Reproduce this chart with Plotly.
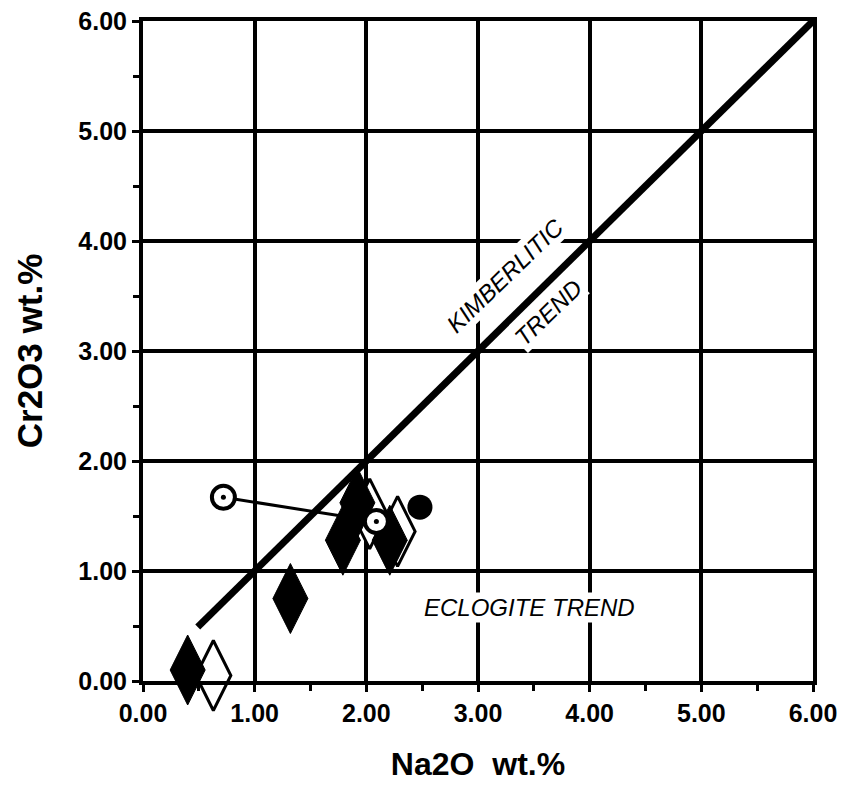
import plotly.graph_objects as go

# Data
trend_x = [0.49, 6.0]
trend_y = [0.49, 6.0]

tie_x = [0.72, 2.09]
tie_y = [1.67, 1.45]

filled_diamond_x = [0.40, 1.32, 1.79, 1.92, 2.21]
filled_diamond_y = [0.10, 0.75, 1.28, 1.62, 1.28]

open_diamond_x = [0.63, 2.28, 2.03]
open_diamond_y = [0.05, 1.36, 1.52]

open_circle_x = [0.72, 2.09]
open_circle_y = [1.67, 1.45]

filled_circle_x = [2.48]
filled_circle_y = [1.58]

tick_vals = [0, 1, 2, 3, 4, 5, 6]
tick_text = ["0.00", "1.00", "2.00", "3.00", "4.00", "5.00", "6.00"]

FONT = "Liberation Sans"

fig = go.Figure()

fig.add_trace(go.Scatter(x=trend_x, y=trend_y, mode="lines",
                         line=dict(color="black", width=7), hoverinfo="skip"))
fig.add_trace(go.Scatter(x=tie_x, y=tie_y, mode="lines",
                         line=dict(color="black", width=3), hoverinfo="skip"))
fig.add_trace(go.Scatter(x=open_diamond_x, y=open_diamond_y, mode="markers",
                         marker=dict(symbol="diamond-tall", size=50, color="white",
                                     line=dict(color="black", width=3)),
                         cliponaxis=False))
fig.add_trace(go.Scatter(x=filled_diamond_x, y=filled_diamond_y, mode="markers",
                         marker=dict(symbol="diamond-tall", size=50, color="black",
                                     line=dict(color="black", width=1)),
                         cliponaxis=False))
fig.add_trace(go.Scatter(x=open_circle_x, y=open_circle_y, mode="markers",
                         marker=dict(symbol="circle", size=23, color="white",
                                     line=dict(color="black", width=4)),
                         cliponaxis=False))
fig.add_trace(go.Scatter(x=open_circle_x, y=open_circle_y, mode="markers",
                         marker=dict(symbol="circle", size=5, color="black"),
                         cliponaxis=False))
fig.add_trace(go.Scatter(x=filled_circle_x, y=filled_circle_y, mode="markers",
                         marker=dict(symbol="circle", size=25, color="black"),
                         cliponaxis=False))

axis_common = dict(
    range=[0, 6], tickvals=tick_vals, ticktext=tick_text,
    showgrid=True, gridcolor="black", gridwidth=4,
    showline=True, linecolor="black", linewidth=4, mirror=True,
    ticks="outside", ticklen=7, tickwidth=3, tickcolor="black",
    minor=dict(dtick=0.5, ticks="outside", ticklen=6, tickwidth=3,
               tickcolor="black", showgrid=False),
    tickfont=dict(family=FONT, size=25, color="black", weight=900),
    zeroline=False, fixedrange=True, automargin=False,
    ticklabeloverflow="allow",
)

fig.update_xaxes(**axis_common,
                 title=dict(text="Na2O  wt.%", standoff=28,
                            font=dict(family=FONT, size=32, color="black", weight="bold")))
fig.update_yaxes(**axis_common,
                 title=dict(text="Cr2O3 wt.%", standoff=26,
                            font=dict(family=FONT, size=35, color="black", weight="bold")))

fig.add_annotation(x=3.24, y=3.69, xref="x", yref="y", text="KIMBERLITIC",
                   textangle=-44, showarrow=False, bgcolor="white",
                   font=dict(family=FONT, size=24, color="black", style="italic"))
fig.add_annotation(x=3.63, y=3.35, xref="x", yref="y", text="TREND",
                   textangle=-44, showarrow=False, bgcolor="white",
                   font=dict(family=FONT, size=24, color="black", style="italic"))
fig.add_annotation(x=3.46, y=0.67, xref="x", yref="y", text="ECLOGITE TREND",
                   showarrow=False, bgcolor="white",
                   font=dict(family=FONT, size=24, color="black", style="italic"))

# page body has an 8px default margin; size the figure to fit the window
fig.update_layout(
    width=830, height=777,
    margin=dict(l=135, r=25, t=13, b=104),
    plot_bgcolor="white", paper_bgcolor="white",
    showlegend=False,
)

fig.write_html("out.html")
